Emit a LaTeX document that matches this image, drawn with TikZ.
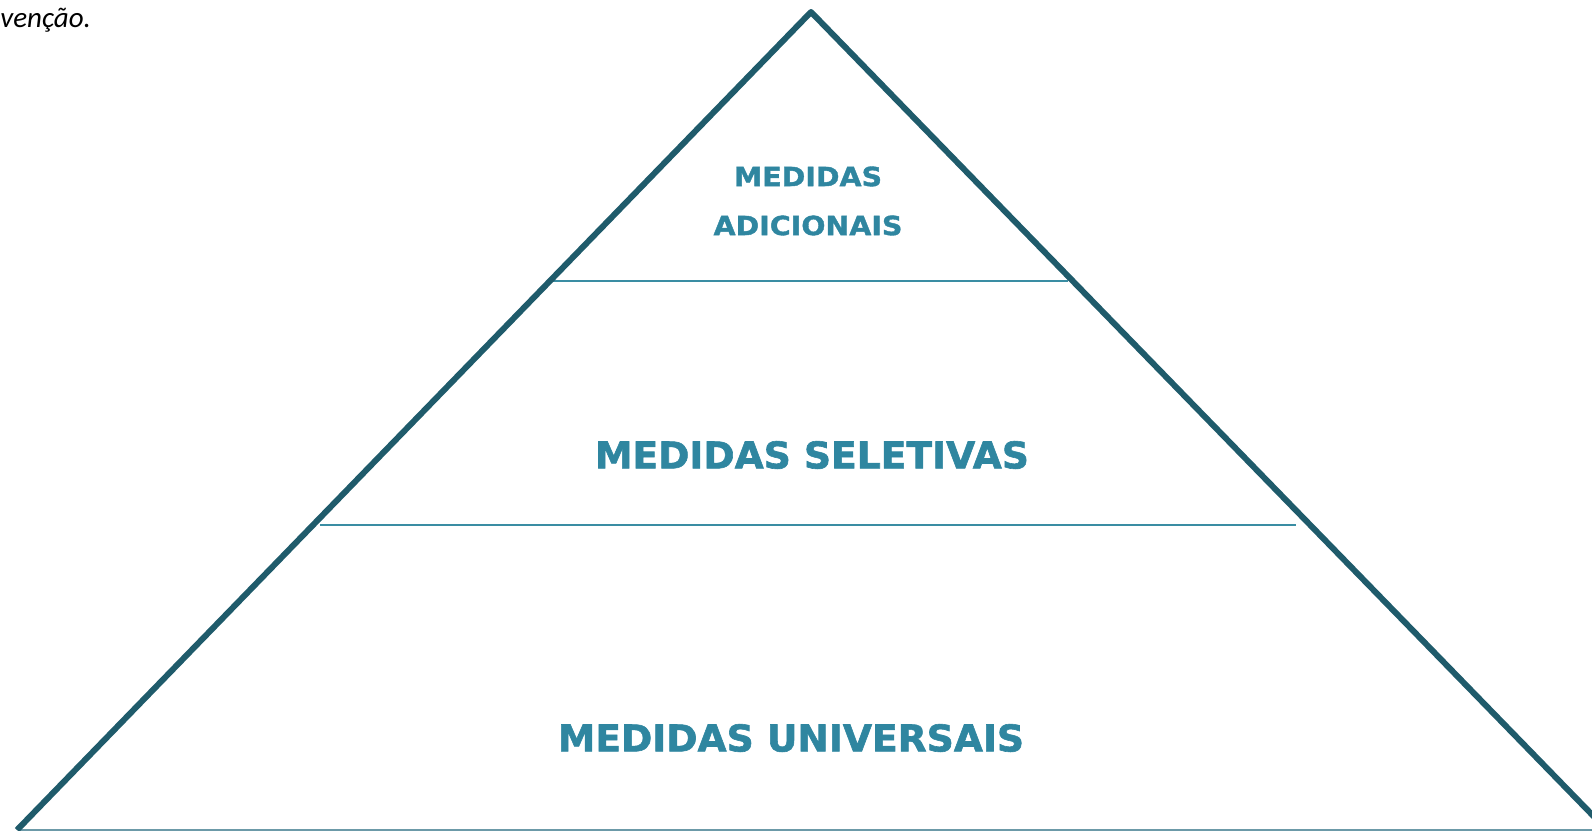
\documentclass[tikz,border=0pt]{standalone}
\usepackage{fontspec}
\setmainfont{Carlito}
\newfontfamily\pyrfont[FakeStretch=1.02, FakeBold=1.6]{DejaVu Sans}
\newfontfamily\pyrwide[FakeStretch=1.08, FakeBold=1.4]{DejaVu Sans}
\usepackage{xcolor}
\usetikzlibrary{positioning,calc}

\definecolor{pyrdark}{HTML}{1F5B6B}
\definecolor{pyrline}{HTML}{3A8DA3}
\definecolor{pyrtext}{HTML}{2F86A0}
\definecolor{pyrbase}{HTML}{6C9AA8}

\begin{document}
\begin{tikzpicture}[
    x=0.02cm, y=-0.02cm,
    side/.style={draw=pyrdark, line width=3.4pt, line join=round},
    level/.style={draw=pyrline, line width=1.1pt},
    basefloor/.style={draw=pyrbase, line width=1.1pt},
    bigtier/.style={text=pyrtext, inner sep=0pt, font=\pyrfont\bfseries\fontsize{21}{25}\selectfont},
    smalltier/.style={text=pyrtext, inner sep=0pt, align=center, font=\pyrwide\bfseries\fontsize{15}{27.9}\selectfont}
]
\useasboundingbox (0,0) rectangle (1592,831);
\clip (0,0) rectangle (1592,831);

% corners of the pyramid
\coordinate (apex) at (811,12);
\coordinate (lcorner) at (17,830);
\coordinate (rcorner) at (1607,830);

% level lines
\coordinate (l1a) at (548,281);
\coordinate (l1b) at (1068,281);
\coordinate (l2a) at (320,525);
\coordinate (l2b) at (1296,525);
\coordinate (b0a) at (20,830);
\coordinate (b0b) at (1592,830);

\draw[basefloor] (b0a) -- (b0b);
\draw[level] (l1a) -- (l1b);
\draw[level] (l2a) -- (l2b);
\draw[side] (lcorner) -- (apex) -- (rcorner);

\node[smalltier] (tadd) at (808,201) {MEDIDAS\\ADICIONAIS};
\node[bigtier] (tsel) at (812,455) {MEDIDAS SELETIVAS};
\node[bigtier] (tuni) at (791,738) {MEDIDAS UNIVERSAIS};

\node[anchor=base west, inner sep=0pt, font=\itshape\fontsize{16.5}{19}\selectfont] (caption) at (0,28) {venção.};

\end{tikzpicture}
\end{document}
